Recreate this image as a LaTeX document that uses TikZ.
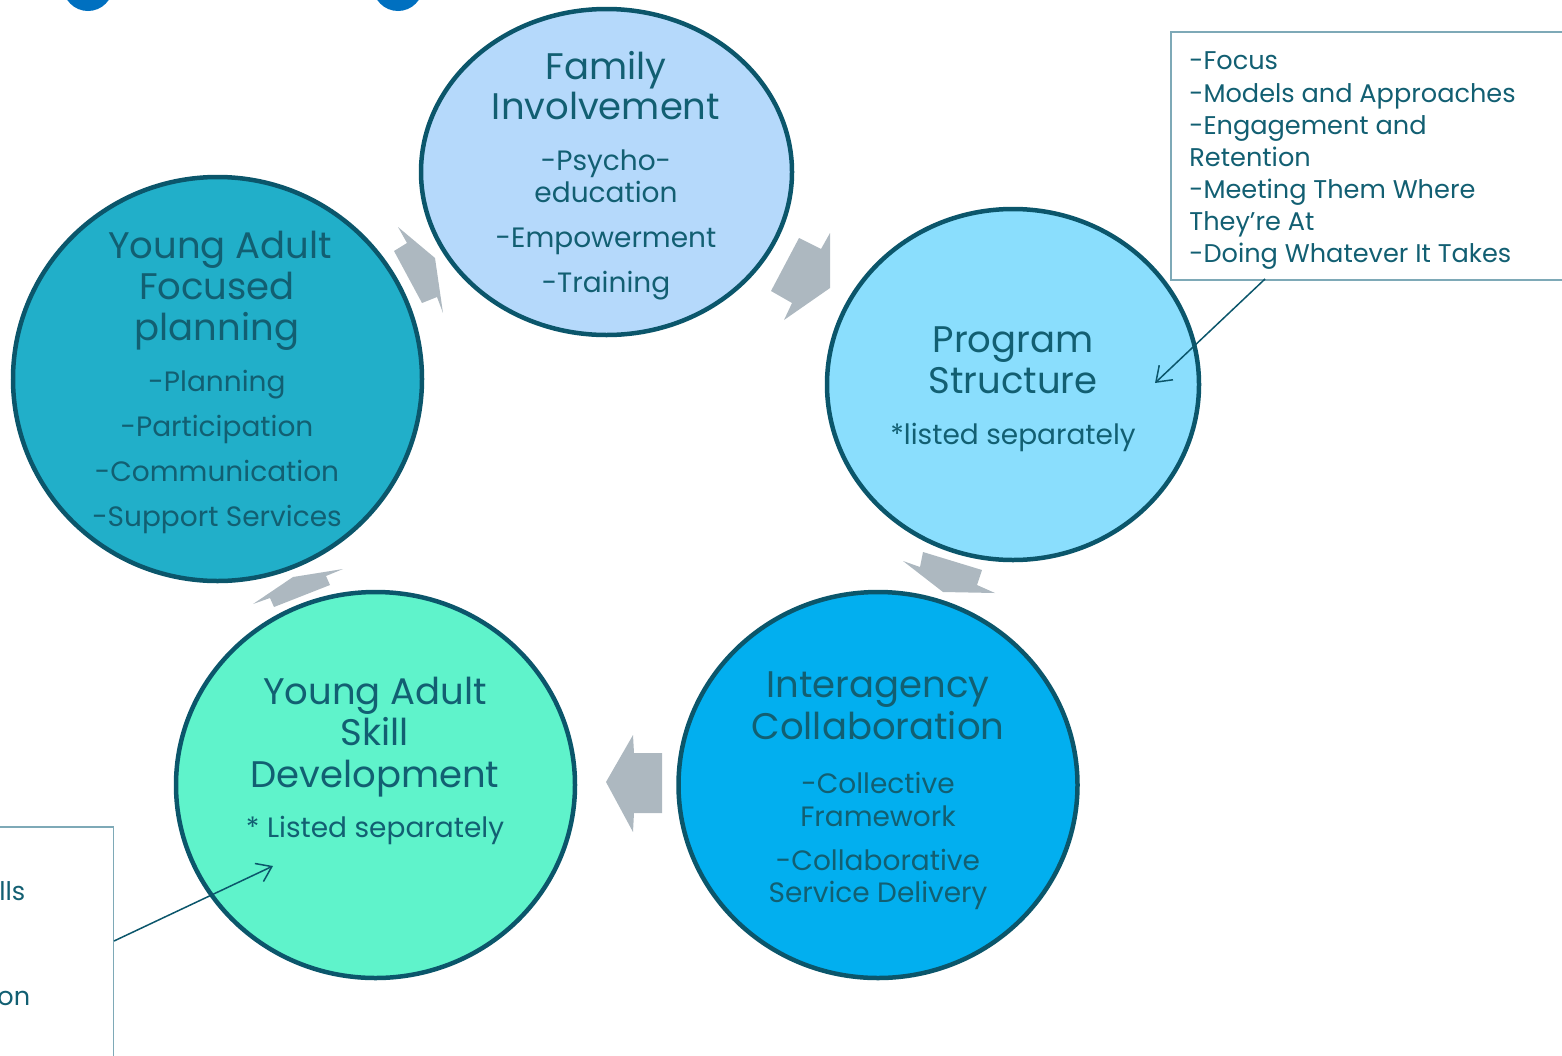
\documentclass[tikz,border=0pt]{standalone}
\usepackage{fontspec}
\setmainfont{Poppins}
\usetikzlibrary{shapes.geometric,arrows.meta}
\definecolor{ringline}{HTML}{0B566B}
\definecolor{ink}{HTML}{125F72}
\definecolor{famfill}{HTML}{B5D9FB}
\definecolor{progfill}{HTML}{8ADEFD}
\definecolor{interfill}{HTML}{02AFEF}
\definecolor{skillfill}{HTML}{5FF3CB}
\definecolor{planfill}{HTML}{21AFC9}
\definecolor{flowgray}{HTML}{ADB8C0}
\definecolor{boxline}{HTML}{7EA9B7}
\definecolor{titleblue}{HTML}{0070C0}
\begin{document}
\begin{tikzpicture}[x=0.5pt,y=-0.5pt,
  ring/.style={ellipse, draw=ringline, line width=2.25pt, inner sep=0pt},
  ttl/.style={text=ink, font=\fontsize{18.5}{20}\selectfont, anchor=base, inner sep=0pt},
  item/.style={text=ink, font=\fontsize{14}{16}\selectfont, anchor=base, inner sep=0pt},
  note/.style={text=ink, font=\fontsize{12.8}{16}\selectfont, anchor=base west, inner sep=0pt},
  flow/.style={fill=flowgray, draw=none},
  callout/.style={rectangle, draw=boxline, line width=0.75pt, inner sep=0pt},
  pointer/.style={draw=ringline, line width=0.75pt, -{Straight Barb[length=7pt,width=10pt]}}
]
\useasboundingbox (0,0) rectangle (1562,1055);
\clip (0,0) rectangle (1562,1055);

% heading fragments along the top edge
\fill[titleblue] (88,-14) ellipse [x radius=12.5pt, y radius=12.5pt];
\fill[titleblue] (398,-14) ellipse [x radius=12.5pt, y radius=12.5pt];

% gray flow arrows between the stages
\fill[flow] (799,238) -- (821,249) -- (830,233) -- (830,288) -- (784,320) -- (792,303) -- (771,291) -- cycle;
\fill[flow] (903,561) -- (920,567) -- (923,552) -- (982,570) -- (977,585) -- (995,593) -- (943,592) -- cycle;
\fill[flow] (606,782) -- (633,735) -- (634,753) -- (662,753) -- (662,813) -- (634,813) -- (633,832) -- cycle;
\fill[flow] (253,604) -- (270,598) -- (274,607) -- (330,585) -- (326,576) -- (343,569) -- (293,577) -- cycle;
\fill[flow] (398,227) -- (407,243) -- (394,251) -- (422,303) -- (437,297) -- (443,313) -- (435,258) -- cycle;

% stage circles
\node[ring, fill=famfill,   minimum width=185.5pt, minimum height=163pt] (fam)   at (606.5,172) {};
\node[ring, fill=progfill,  minimum width=186pt,   minimum height=175.5pt] (prog) at (1013,384.5) {};
\node[ring, fill=interfill, minimum width=199.5pt, minimum height=193pt] (inter) at (878,785) {};
\node[ring, fill=skillfill, minimum width=199.5pt, minimum height=193pt] (skill) at (375.5,785) {};
\node[ring, fill=planfill,  minimum width=204.5pt, minimum height=202pt] (plan)  at (217.5,379) {};

% Family Involvement
\node[ttl]  (fam1) at (606,79)  {Family};
\node[ttl]  (fam2) at (606,119) {Involvement};
\node[item] (fam3) at (606,170) {-Psycho-};
\node[item] (fam4) at (606,202) {education};
\node[item] (fam5) at (606,247) {-Empowerment};
\node[item] (fam6) at (606,292) {-Training};

% Young Adult Focused planning
\node[ttl]  (pl1) at (220,258) {Young Adult};
\node[ttl]  (pl2) at (217,299) {Focused};
\node[ttl]  (pl3) at (217,340) {planning};
\node[item] (pl4) at (217,391) {-Planning};
\node[item] (pl5) at (217,436) {-Participation};
\node[item] (pl6) at (217,481) {-Communication};
\node[item] (pl7) at (217,526) {-Support Services};

% Program Structure
\node[ttl]  (pr1) at (1013,352) {Program};
\node[ttl]  (pr2) at (1013,393) {Structure};
\node[item] (pr3) at (1013,444) {*listed separately};

% Interagency Collaboration
\node[ttl]  (in1) at (878,697) {Interagency};
\node[ttl]  (in2) at (878,739) {Collaboration};
\node[item] (in3) at (878,793) {-Collective};
\node[item] (in4) at (878,826) {Framework};
\node[item] (in5) at (878,870) {-Collaborative};
\node[item] (in6) at (878,902) {Service Delivery};

% Young Adult Skill Development
\node[ttl]  (sk1) at (375,704) {Young Adult};
\node[ttl]  (sk2) at (375,745) {Skill};
\node[ttl]  (sk3) at (375,787) {Development};
\node[item] (sk4) at (375,837) {* Listed separately};

% program structure details
\node[callout, anchor=north west, minimum width=202.5pt, minimum height=124pt] (focusbox) at (1170,31) {};
\node[note] (fb1) at (1189,69)  {-Focus};
\node[note] (fb2) at (1189,102) {-Models and Approaches};
\node[note] (fb3) at (1189,134) {-Engagement and};
\node[note] (fb4) at (1189,166) {Retention};
\node[note] (fb5) at (1189,198) {-Meeting Them Where};
\node[note] (fb6) at (1189,230) {They’re At};
\node[note] (fb7) at (1189,262) {-Doing Whatever It Takes};
\coordinate (focusfoot) at (1265,279);
\coordinate (progtarget) at (1155,383);
\draw[pointer] (focusfoot) -- (progtarget);

% skill development details
\node[callout, anchor=north east, minimum width=62pt, minimum height=125pt] (skillbox) at (114,826) {};
\node[note] (sb1) at (-1,900)  {lls};
\node[note] (sb2) at (-3,1005) {on};
\coordinate (skillfoot) at (114,941);
\coordinate (skilltarget) at (273,866);
\draw[pointer] (skillfoot) -- (skilltarget);
\end{tikzpicture}
\end{document}
